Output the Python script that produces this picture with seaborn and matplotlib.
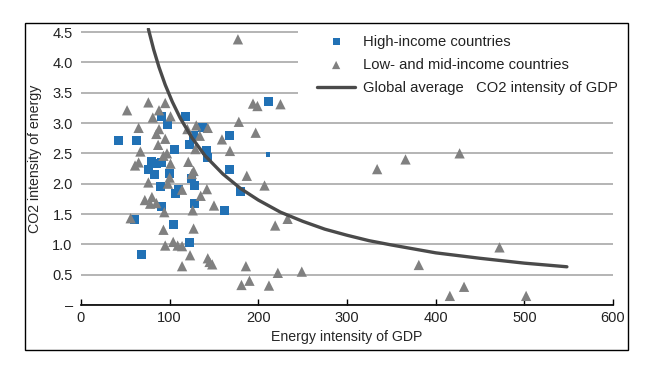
import numpy as np
import pandas as pd
import matplotlib
matplotlib.use("Agg")
import matplotlib.pyplot as plt
from matplotlib.patches import Rectangle
import seaborn as sns

# High-income countries (energy intensity of GDP, CO2 intensity of energy)
hi_x = [42, 63, 91, 98, 118, 127, 137, 122, 106, 142, 143, 168, 168, 211,
        80, 85, 91, 76, 83, 100, 90, 125, 128, 107, 110, 128, 91, 60, 104,
        122, 68, 162, 180]
hi_y = [2.71, 2.71, 3.11, 2.97, 3.11, 2.79, 2.92, 2.65, 2.56, 2.54, 2.43, 2.80, 2.23, 3.36,
        2.37, 2.33, 2.35, 2.24, 2.15, 2.16, 1.96, 2.09, 1.97, 1.84, 1.91, 1.68, 1.62, 1.41, 1.33,
        1.03, 0.84, 1.55, 1.87]
# one high-income point drawn with a smaller marker
hi_small_x = [211]
hi_small_y = [2.48]

# Low- and mid-income countries
lm_x = [52, 76, 95, 88, 101, 81, 65, 88, 85, 95, 87, 67, 97, 61, 65, 101, 76, 98,
        121, 127, 130, 143, 134, 129, 159, 168, 178, 197, 194, 199, 225, 177, 187, 207,
        100, 125, 114, 142, 135, 72, 80, 78, 85, 94, 126, 150, 56, 93, 127,
        95, 104, 109, 114, 123, 114, 143, 145, 148, 186, 181, 190, 212, 222, 249,
        219, 233, 334, 366, 427, 472, 381, 416, 432, 502, 120, 93]
lm_y = [3.21, 3.34, 3.33, 3.21, 3.11, 3.09, 2.92, 2.90, 2.82, 2.74, 2.64, 2.53, 2.50, 2.30, 2.35, 2.33, 2.02, 2.00,
        2.36, 2.21, 2.96, 2.92, 2.79, 2.57, 2.73, 2.54, 3.02, 2.84, 3.32, 3.28, 3.31, 4.38, 2.13, 1.97,
        2.10, 2.16, 1.90, 1.91, 1.80, 1.73, 1.78, 1.67, 1.68, 1.53, 1.56, 1.64, 1.43, 1.24, 1.26,
        0.98, 1.04, 0.98, 0.97, 0.82, 0.64, 0.77, 0.71, 0.67, 0.64, 0.33, 0.40, 0.32, 0.53, 0.55,
        1.31, 1.42, 2.24, 2.40, 2.50, 0.95, 0.66, 0.15, 0.30, 0.15, 2.90, 2.46]

# Global average CO2 intensity of GDP
avg_x = [76, 82, 88, 95, 103, 112, 125, 140, 160, 180, 200, 225, 250, 275, 300,
         325, 350, 400, 450, 500, 548]
avg_y = [4.55, 4.21, 3.92, 3.63, 3.35, 3.08, 2.76, 2.46, 2.16, 1.92, 1.73, 1.53, 1.38, 1.25, 1.15,
         1.06, 0.99, 0.86, 0.77, 0.69, 0.63]

y_ticks = [0, 0.5, 1.0, 1.5, 2.0, 2.5, 3.0, 3.5, 4.0, 4.5]
y_ticklabels = ["–", "0.5", "1.0", "1.5", "2.0", "2.5", "3.0", "3.5", "4.0", "4.5"]
x_ticks = [0, 100, 200, 300, 400, 500, 600]

hi = pd.DataFrame({"ei": hi_x, "ci": hi_y})
hi_small = pd.DataFrame({"ei": hi_small_x, "ci": hi_small_y})
lm = pd.DataFrame({"ei": lm_x, "ci": lm_y})
avg = pd.DataFrame({"ei": avg_x, "ci": avg_y})

sns.set_theme(style="white")
plt.rcParams["font.family"] = ["Liberation Sans", "DejaVu Sans"]
plt.rcParams["text.color"] = "#222222"

blue = "#2171b5"
grey = "#808080"
dark = "#4a4a4a"

fig = plt.figure(figsize=(6.52, 3.74), dpi=100)
ax = fig.add_axes([0.1242, 0.1845, 0.8160, 0.7396])

sns.scatterplot(data=hi, x="ei", y="ci", marker="s", s=42, color=blue,
                edgecolor="none", linewidth=0, label="High-income countries", ax=ax, zorder=3)
sns.scatterplot(data=lm, x="ei", y="ci", marker="^", s=55, color=grey,
                edgecolor="none", linewidth=0, label="Low- and mid-income countries", ax=ax, zorder=3)
sns.scatterplot(data=hi_small, x="ei", y="ci", marker="s", s=12, color=blue,
                edgecolor="none", linewidth=0, legend=False, ax=ax, zorder=3)
sns.lineplot(data=avg, x="ei", y="ci", sort=False, color=dark, lw=2.4,
             label="Global average   CO2 intensity of GDP", ax=ax, zorder=4)

ax.set_xlim(0, 600)
ax.set_ylim(0, 4.56)
ax.set_axisbelow(True)
ax.set_yticks(y_ticks)
ax.set_yticklabels(y_ticklabels)
ax.set_xticks(x_ticks)
ax.grid(axis="y", color="#a0a0a0", lw=1.1)
ax.grid(axis="x", visible=False)

for side in ["left", "top", "right"]:
    ax.spines[side].set_visible(False)
ax.spines["bottom"].set_color("black")
ax.spines["bottom"].set_linewidth(1.2)

ax.tick_params(axis="y", length=0, pad=6, labelsize=10.5, labelcolor="#222222")
ax.tick_params(axis="x", direction="in", length=4, width=1, color="black",
               pad=4, labelsize=10.5, labelcolor="#222222", bottom=True)

ax.set_xlabel("Energy intensity of GDP", fontsize=10.2, labelpad=4)
ax.set_ylabel("CO2 intensity of energy", fontsize=10.2)
ax.yaxis.set_label_coords(-0.073, 0.53)

# white box behind the legend hides the upper gridlines
ax.add_patch(Rectangle((0.408, 0.722), 0.61, 0.278, transform=ax.transAxes,
                       facecolor="white", edgecolor="none", zorder=0.9, clip_on=False))

ax.legend(loc="upper left", bbox_to_anchor=(0.4436, 0.977), frameon=False,
          borderaxespad=0, borderpad=0, handlelength=2.6, handletextpad=0.5,
          labelspacing=0.62, fontsize=10.6, markerscale=0.8)

# outer frame around the whole chart
fig.patches.append(Rectangle((0.0383, 0.0642), 0.9249, 0.8743, transform=fig.transFigure,
                             fill=False, edgecolor="black", lw=1.0))

fig.savefig("out.png", dpi=100)
